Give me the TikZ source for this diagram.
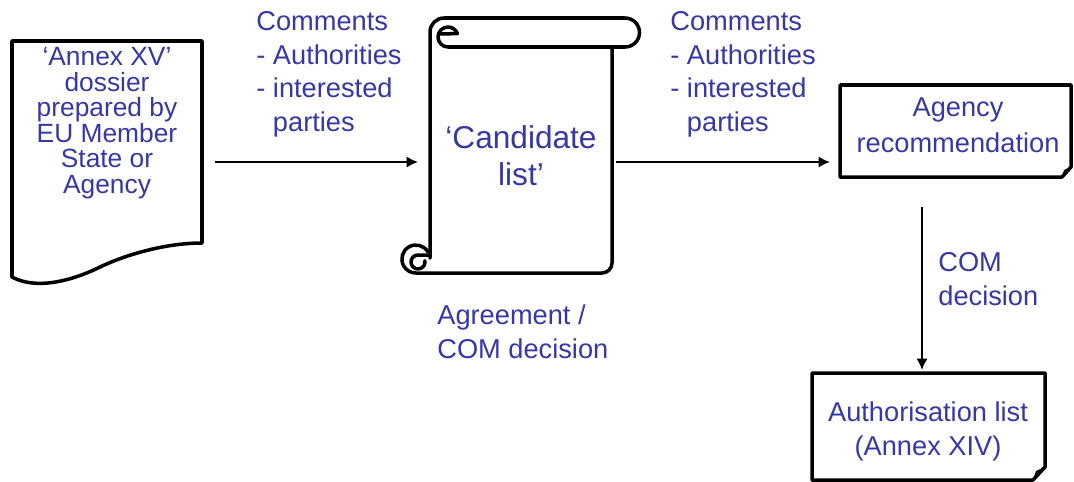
\documentclass[tikz,border=0pt]{standalone}
\usepackage{fontspec}
\setmainfont{Liberation Sans}
\usetikzlibrary{arrows.meta}
\definecolor{txtblue}{RGB}{55,55,165}

\begin{document}
\begin{tikzpicture}[x=0.02cm,y=-0.02cm,
	outline/.style={line width=2pt, line join=round, line cap=round},
	flow/.style={line width=1.3pt, -{Latex[length=6.5pt,width=6.5pt]}},
	words/.style={text=txtblue, inner sep=0pt, font=\fontsize{15.5}{19}\selectfont},
	bigwords/.style={words, font=\fontsize{18}{21}\selectfont}]
	\useasboundingbox (0,0) rectangle (1074,481);
	
	% Dossier (document shape)
	\draw[outline] (12,41) -- (202,41) -- (202,243)
		.. controls (165,243) and (125,255) .. (100,267)
		.. controls (80,277) and (40,292) .. (12,277) -- cycle;
	\node[words, align=center, anchor=base, font=\fontsize{15}{14.5}\selectfont] (dossier) at (107,193)
		{`Annex XV'\\dossier\\prepared by\\EU Member\\State or\\Agency};
	
	% Candidate list (scroll)
	\draw[outline] (444,18) -- (625,18) arc[start angle=270, end angle=450, radius=14.5] -- (448,47)
		arc[start angle=90, end angle=340, radius=10] -- (439,34);
	\draw[outline] (444,18) arc[start angle=270, end angle=180, radius=14] -- (430,258);
	\draw[outline] (428,252) arc[start angle=330, end angle=90, radius=14] -- (602,273)
		arc[start angle=90, end angle=0, radius=10] -- (612,47);
	\draw[outline] (430,255) -- (418,255) arc[start angle=270, end angle=-10, radius=7];
	\node[bigwords, align=center, anchor=base] (candidate) at (521,185) {`Candidate\\list'};
	
	% Agency recommendation
	\draw[outline] (840,85) -- (1071,85) -- (1071,167) -- (1062,177) -- (840,177) -- cycle;
	\fill (1062,177) -- (1064,170) -- (1071,167) -- cycle;
	\node[words, align=center, anchor=base, font=\fontsize{15.5}{20}\selectfont] (agency) at (958,152)
		{Agency\\recommendation};
	
	% Authorisation list
	\draw[outline] (812,373) -- (1045,373) -- (1045,467) -- (1033,480) -- (812,480) -- cycle;
	\fill (1033,480) -- (1036,471) -- (1045,467) -- cycle;
	\node[words, align=center, anchor=base] (authlist) at (928,455)
		{Authorisation list\\(Annex XIV)};
	
	% Labels
	\node[words, align=left, anchor=base west] (comments1) at (256,131)
		{Comments\\- Authorities\\- interested\\\phantom{- }parties};
	\node[words, align=left, anchor=base west] (comments2) at (670,131)
		{Comments\\- Authorities\\- interested\\\phantom{- }parties};
	\node[words, align=left, anchor=base west] (agreement) at (437,358)
		{Agreement /\\COM decision};
	\node[words, align=left, anchor=base west] (comdecision) at (938,305)
		{COM\\decision};
	
	% Arrows
	\coordinate (dossier-e) at (202,162);
	\coordinate (candidate-w) at (430,162);
	\coordinate (candidate-e) at (612,162);
	\coordinate (agency-w) at (840,162);
	\coordinate (agency-s) at (922,177);
	\coordinate (authlist-n) at (922,373);
	\draw[flow, shorten <=7.4pt, shorten >=6.8pt] (dossier-e) -- (candidate-w);
	\draw[flow, shorten <=2.3pt, shorten >=5.7pt] (candidate-e) -- (agency-w);
	\draw[flow, shorten <=17pt, shorten >=1.7pt] (agency-s) -- (authlist-n);
\end{tikzpicture}
\end{document}
